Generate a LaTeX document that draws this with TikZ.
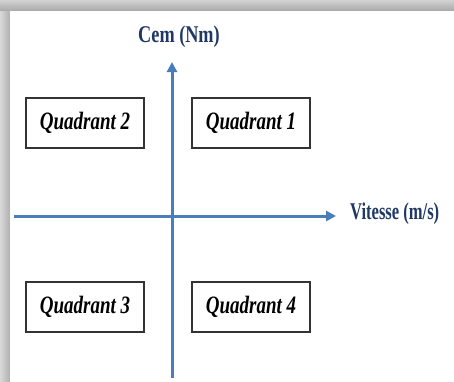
\documentclass[tikz,border=0pt]{standalone}
\usepackage{fontspec}
\setmainfont{Liberation Serif}
\newfontfamily\quadfont[FakeStretch=0.76]{Liberation Serif}
\newfontfamily\cemfont[FakeStretch=0.76]{Liberation Serif}
\newfontfamily\vitfont[FakeStretch=0.69]{Liberation Serif}
\usetikzlibrary{arrows.meta}
\definecolor{axisblue}{HTML}{4A7EBB}
\definecolor{labelnavy}{HTML}{1F3864}
\tikzset{
  axisline/.style={draw=axisblue, line width=3pt, -{Triangle[width=10pt,length=10pt]}},
  quadbox/.style={draw=black!80, line width=1.4pt, minimum width=118pt, minimum height=50pt, inner sep=0pt, font=\quadfont\fontsize{25}{28}\selectfont\bfseries\itshape},
  axislabel/.style={text=labelnavy, inner sep=0pt}
}
\begin{document}
\begin{tikzpicture}[x=1pt,y=-1pt]
\useasboundingbox (0,0) rectangle (454,381);
% shadow
\shade[top color=gray!35, bottom color=gray!68] (0,0) rectangle (454,11);
\shade[left color=gray!30, right color=gray!62] (0,11) rectangle (10,381);
\fill[white] (10,11) rectangle (454,381);
% axes
\coordinate (vbot) at (172,378);
\coordinate (vtop) at (172,62);
\coordinate (hleft) at (14,216);
\coordinate (hright) at (336,216);
\draw[axisline] (vbot) -- (vtop);
\draw[axisline] (hleft) -- (hright);
% labels
\node[axislabel, font=\cemfont\fontsize{24}{28}\selectfont\bfseries] (cem) at (179,37) {Cem (Nm)};
\node[axislabel, anchor=west, font=\vitfont\fontsize{24}{28}\selectfont\bfseries] (vit) at (350,214) {Vitesse (m/s)};
% quadrant boxes
\node[quadbox] (q2) at (85,123) {Quadrant 2};
\node[quadbox] (q1) at (251,123) {Quadrant 1};
\node[quadbox] (q3) at (85,307) {Quadrant 3};
\node[quadbox] (q4) at (251,307) {Quadrant 4};
\end{tikzpicture}
\end{document}
